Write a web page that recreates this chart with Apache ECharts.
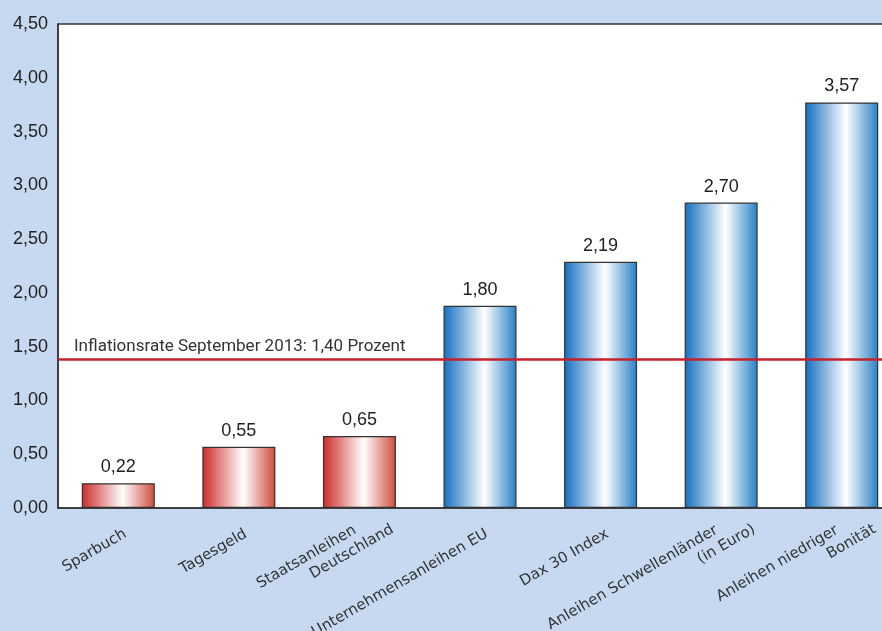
<!DOCTYPE html>
<html>
<head>
<meta charset="utf-8">
<script src="https://cdn.jsdelivr.net/npm/echarts@6/dist/echarts.min.js"></script>
<style>
  html, body { margin: 0; padding: 0; background: #c6d9f0; }
  #chart { width: 882px; height: 631px; }
</style>
</head>
<body>
<div id="chart"></div>
<script>
// Kategorien (x-Achse)
var categories = [
    'Sparbuch',
    'Tagesgeld',
    'Staatsanleihen\nDeutschland',
    'Unternehmensanleihen EU',
    'Dax 30 Index',
    'Anleihen Schwellenländer\n(in Euro)',
    'Anleihen niedriger\nBonität'
];
// Balkenhöhen, so wie sie im Bild gezeichnet sind
var barHeights = [0.23, 0.57, 0.67, 1.88, 2.29, 2.84, 3.77];
// aufgedruckte Werte
var valueLabels = ['0,22', '0,55', '0,65', '1,80', '2,19', '2,70', '3,57'];
// welche Balken rot sind (unter Inflation)
var isRed = [true, true, true, false, false, false, false];
// Inflationslinie
var inflationLevel = 1.38;
var inflationText = 'Inflationsrate September 2013: 1,40 Prozent';

var redFill = new echarts.graphic.LinearGradient(0, 0, 1, 0, [
    { offset: 0, color: '#cc2a28' },
    { offset: 0.56, color: '#ffffff' },
    { offset: 1, color: '#cf4a3a' }
]);
var blueFill = new echarts.graphic.LinearGradient(0, 0, 1, 0, [
    { offset: 0, color: '#136ebf' },
    { offset: 0.56, color: '#ffffff' },
    { offset: 1, color: '#2580c6' }
]);

var chart = echarts.init(document.getElementById('chart'));

var option = {
    backgroundColor: '#c6d9f0',
    animation: false,
    grid: {
        left: 58, top: 24, width: 844, height: 484,
        containLabel: false,
        outerBoundsMode: 'none',
        show: true, backgroundColor: '#ffffff',
        borderColor: '#333333', borderWidth: 1.5
    },
    xAxis: {
        type: 'category',
        data: categories,
        axisLine: { show: true, lineStyle: { color: '#333333', width: 1.5 } },
        axisTick: { show: false },
        axisLabel: {
            interval: 0,
            rotate: 30,
            margin: 29,
            padding: [0, -33, 0, 0],
            color: '#333333',
            fontFamily: 'DejaVu Sans',
            fontSize: 15,
            lineHeight: 18,
            formatter: function (v) {
                var parts = v.split('\n');
                if (parts.length === 1) return '{s|' + v + '}';
                return '{a|' + parts[0] + '}\n{b|' + parts[1] + '}';
            },
            rich: {
                s: { padding: [0, 25, 0, 0], fontFamily: 'DejaVu Sans', fontSize: 15, color: '#333' },
                a: { padding: [0, 33, 0, 0], fontFamily: 'DejaVu Sans', fontSize: 15, color: '#333', lineHeight: 18 },
                b: { fontFamily: 'DejaVu Sans', fontSize: 15, color: '#333', lineHeight: 18 }
            }
        }
    },
    yAxis: {
        type: 'value',
        min: 0, max: 4.5, interval: 0.5,
        splitLine: { show: false },
        axisLine: { show: true, lineStyle: { color: '#333333', width: 1.5 } },
        axisTick: { show: false },
        axisLabel: {
            margin: 10,
            color: '#222222',
            fontFamily: 'Liberation Sans',
            fontSize: 18,
            formatter: function (v) { return v.toFixed(2).replace('.', ','); }
        }
    },
    series: [{
        type: 'bar',
        barWidth: 73,
        data: barHeights.map(function (h, i) {
            return {
                value: h,
                itemStyle: { color: isRed[i] ? redFill : blueFill }
            };
        }),
        itemStyle: { borderColor: '#333333', borderWidth: 1.2 },
        label: {
            show: true,
            position: 'top',
            distance: 7,
            color: '#222222',
            fontFamily: 'Liberation Sans',
            fontSize: 18,
            formatter: function (p) { return valueLabels[p.dataIndex]; }
        },
        markLine: {
            silent: true,
            symbol: 'none',
            lineStyle: { color: '#c3222c', width: 2.5, type: 'solid' },
            label: {
                show: true,
                position: 'insideStartTop',
                distance: [16, 4],
                color: '#333333',
                fontFamily: 'Roboto',
                fontSize: 17,
                formatter: inflationText
            },
            data: [{ yAxis: inflationLevel }]
        }
    }]
};

chart.setOption(option);
</script>
</body>
</html>
